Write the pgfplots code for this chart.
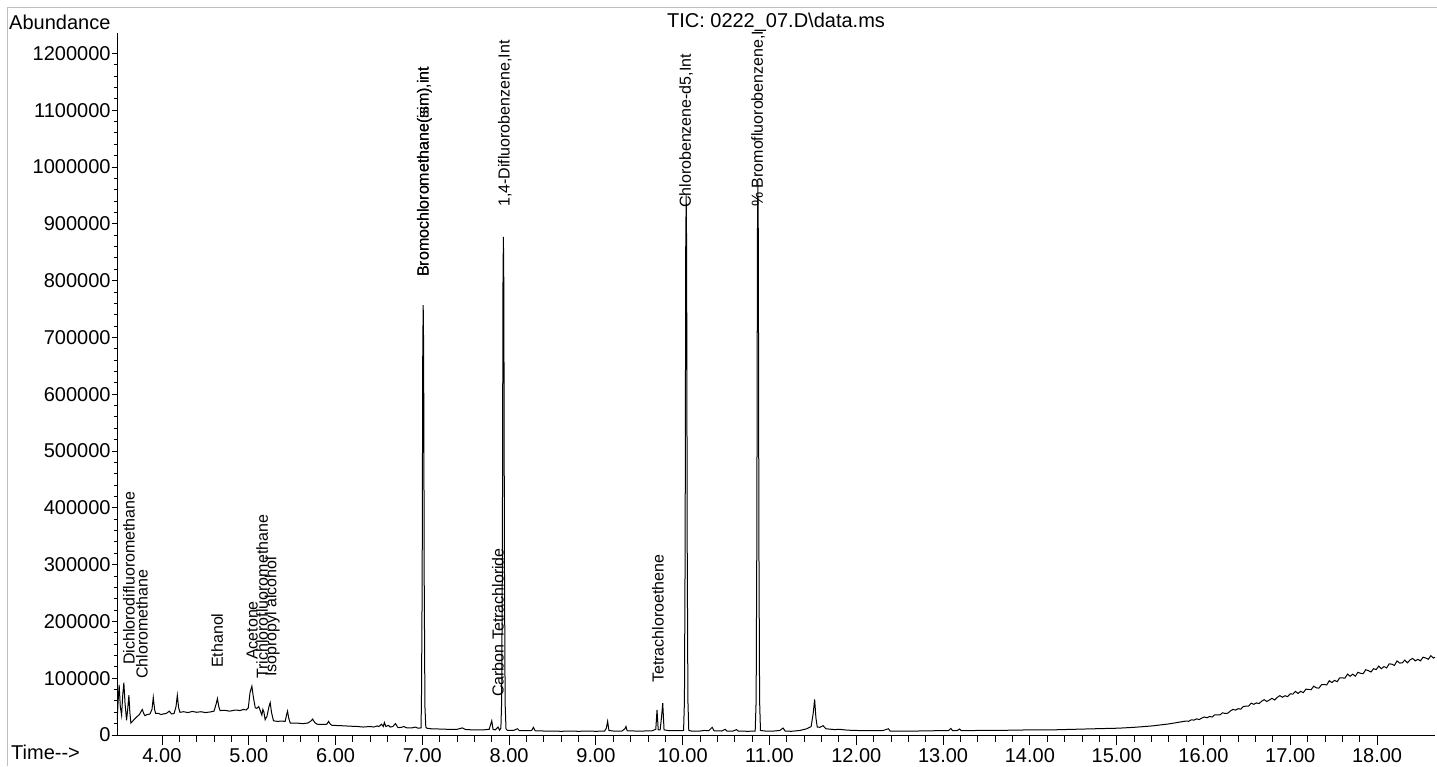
\documentclass[border=0pt]{standalone}
\usepackage{fontspec}
\setmainfont{Liberation Sans}
\usepackage{pgfplots}
\pgfplotsset{compat=1.18}
\begin{document}
\begin{tikzpicture}[x=1bp,y=1bp,
  lbl/.style={rotate=90, anchor=west, inner sep=0, font=\fontsize{16bp}{19bp}\selectfont}]
\useasboundingbox (-117,-31) rectangle (1320,735);
\draw[black!25, line width=1bp] (-109,-31) -- (-109,727) -- (1320,727);
\node[anchor=west, inner sep=0, font=\fontsize{20bp}{24bp}\selectfont] at (-108,713) {Abundance};
\node[anchor=center, inner sep=0, font=\fontsize{20bp}{24bp}\selectfont] at (659,713) {TIC: 0222\_07.D\textbackslash data.ms};
\node[anchor=west, inner sep=0, font=\fontsize{20bp}{24bp}\selectfont] at (-106,-17) {Time-{}-{}>};
\begin{axis}[
  at={(0,0)}, anchor=south west,
  scale only axis, width=1318bp, height=702bp,
  xmin=3.482, xmax=18.668, ymin=0, ymax=1236000,
  axis x line*=bottom, axis y line*=left,
  axis line style={black, line width=0.9bp},
  xtick={4,5,6,7,8,9,10,11,12,13,14,15,16,17,18},
  xticklabels={4.00,5.00,6.00,7.00,8.00,9.00,10.00,11.00,12.00,13.00,14.00,15.00,16.00,17.00,18.00},
  ytick={0,100000,200000,300000,400000,500000,600000,700000,800000,900000,1000000,1100000,1200000},
  yticklabels={0,100000,200000,300000,400000,500000,600000,700000,800000,900000,1000000,1100000,1200000},
  scaled y ticks=false, scaled x ticks=false,
  minor x tick num=4, minor y tick num=4,
  tick align=outside,
  major tick style={black, line width=0.9bp},
  minor tick style={black, line width=0.9bp},
  every major x tick/.append style={/pgfplots/major tick length=10bp},
  every minor x tick/.append style={/pgfplots/minor tick length=7bp},
  every major y tick/.append style={/pgfplots/major tick length=5bp},
  every minor y tick/.append style={/pgfplots/minor tick length=3bp},
  tick label style={font=\fontsize{20bp}{24bp}\selectfont, inner sep=1bp},
  xticklabel style={yshift=-8bp},
  yticklabel style={xshift=-1bp},
]
\addplot[black, line width=1bp] coordinates {
(3.484,26000)(3.495,60000)(3.507,88000)(3.520,50000)(3.535,35000)(3.548,70000)(3.561,92000)(3.575,55000)
(3.592,26000)(3.605,45000)(3.619,70000)(3.630,40000)(3.642,21000)(3.66,24000)(3.69,29000)(3.71,32000)
(3.74,36000)(3.773,45000)(3.79,38000)(3.804,34000)(3.83,36000)(3.861,37000)(3.885,45000)(3.900,66000)
(3.915,45000)(3.927,38000)(3.96,38000)(3.99,36000)(4.015,37000)(4.05,38000)(4.085,42000)(4.11,37000)
(4.14,38000)(4.162,50000)(4.177,70000)(4.192,48000)(4.208,40000)(4.25,41000)(4.30,39500)(4.35,41500)
(4.40,40000)(4.45,41000)(4.50,39500)(4.554,40500)(4.60,42000)(4.625,55000)(4.639,64000)(4.655,50000)
(4.670,43000)(4.72,43500)(4.78,42000)(4.85,44000)(4.90,43000)(4.939,45000)(4.97,44000)(4.995,48000)
(5.015,75000)(5.036,86000)(5.055,65000)(5.075,48000)(5.093,47000)(5.115,50000)(5.135,42000)(5.151,35000)
(5.163,45000)(5.175,40000)(5.189,27000)(5.21,33000)(5.233,50000)(5.247,57000)(5.262,40000)(5.285,25000)
(5.33,24000)(5.38,24500)(5.420,24000)(5.435,35000)(5.447,42000)(5.46,30000)(5.478,21000)(5.55,21000)
(5.62,20000)(5.68,21000)(5.72,25000)(5.736,28000)(5.76,22000)(5.786,19000)(5.85,18500)(5.90,19000)
(5.920,24000)(5.94,19000)(5.96,17000)(6.05,16500)(6.17,15500)
(6.25,15000)(6.32,14000)(6.40,15000)(6.44,14000)(6.48,16000)(6.50,15000)(6.53,19000)(6.55,15000)
(6.563,22000)(6.58,15000)(6.61,17000)(6.63,14000)(6.66,15000)(6.69,20000)(6.72,13000)(6.76,13500)
(6.786,15000)(6.82,12500)(6.88,12500)(6.92,14000)(6.95,12000)(6.985,12500)
(6.990,60000)(6.998,265000)(7.005,680000)(7.010,757000)(7.015,680000)(7.022,265000)(7.030,50000)(7.040,14000)
(7.05,12000)(7.10,11000)(7.20,10500)(7.30,10000)(7.40,10000)(7.46,12500)(7.50,9500)(7.60,9000)
(7.70,9000)(7.77,10000)(7.800,25000)(7.815,10000)(7.84,9000)(7.872,14000)(7.89,8500)(7.905,12000)
(7.914,60000)(7.922,305000)(7.929,790000)(7.934,877000)(7.939,790000)(7.946,305000)(7.954,55000)(7.964,11000)
(7.98,8000)(8.05,8000)(8.096,11000)(8.12,7500)(8.20,7500)(8.26,8000)(8.28,13500)(8.30,7500)
(8.40,7000)(8.50,7000)(8.60,6500)(8.70,7000)(8.80,6500)(8.90,7000)(9.00,6500)(9.10,7000)
(9.12,12000)(9.135,24000)(9.15,8000)(9.20,7000)(9.30,7000)(9.335,11000)(9.346,15000)(9.36,7500)
(9.45,7000)(9.55,7000)(9.65,7500)(9.69,10000)(9.704,44000)(9.718,9000)(9.74,9000)(9.755,30000)
(9.770,56000)(9.785,9000)(9.85,7500)(9.95,7500)(10.01,8000)
(10.020,60000)(10.028,330000)(10.035,860000)(10.040,950000)(10.045,860000)(10.052,330000)(10.060,60000)(10.070,8000)
(10.10,7000)(10.20,7000)(10.25,8000)(10.30,7500)(10.34,13500)(10.36,7500)(10.45,7000)(10.49,10000)
(10.51,7000)(10.58,7000)(10.62,9500)(10.64,7000)(10.75,6500)(10.835,7000)
(10.846,60000)(10.854,340000)(10.861,880000)(10.866,975000)(10.871,880000)(10.878,340000)(10.886,60000)(10.896,8000)
(10.95,7000)(11.05,7000)(11.12,8000)(11.156,12300)(11.18,7000)(11.25,6500)(11.35,8000)(11.43,11000)
(11.48,15000)(11.505,40000)(11.52,62800)(11.535,30000)(11.55,14000)(11.58,13500)(11.617,16400)(11.65,11000)
(11.75,9500)(11.80,10000)(11.90,8500)(12.00,8000)(12.10,7500)(12.20,7500)(12.30,7500)(12.37,11000)
(12.39,7000)(12.50,7000)(12.70,7000)(12.90,7500)(13.06,7500)(13.09,11500)(13.11,7500)(13.16,7500)
(13.19,10500)(13.21,7500)(13.40,8000)(13.60,8000)(13.80,8500)(14.00,9000)(14.25,9000)(14.50,10000)
(14.75,11000)(15.02,12000)(15.2,13500)(15.41,16000)(15.6,19500)
(15.80,24600)(15.83,24100)(15.86,26800)(15.89,26200)(15.92,28400)(15.95,27200)(15.98,29700)(16.01,31700)
(16.04,30400)(16.07,32500)(16.10,31700)(16.13,35500)(16.16,35500)(16.19,35400)(16.22,39100)(16.25,37900)
(16.28,38400)(16.31,42300)(16.34,45100)(16.37,43800)(16.40,46400)(16.43,45400)(16.46,50400)(16.49,50700)
(16.52,50800)(16.55,56000)(16.58,54000)(16.61,56500)(16.64,55300)(16.67,59400)(16.70,62200)(16.73,59000)
(16.76,61700)(16.79,64600)(16.82,61500)(16.85,66200)(16.88,69300)(16.91,66500)(16.94,69100)(16.97,67600)
(17.00,72600)(17.03,71900)(17.06,76800)(17.09,73100)(17.12,77000)(17.15,74600)(17.18,80700)(17.21,80300)
(17.24,79700)(17.27,86000)(17.30,83000)(17.33,82500)(17.36,88500)(17.39,89000)(17.42,88100)(17.45,95600)
(17.48,92300)(17.51,96100)(17.54,93900)(17.57,100700)(17.60,100500)(17.63,100100)(17.66,107300)(17.69,103400)
(17.72,107100)(17.75,103600)(17.78,110400)(17.81,108600)(17.84,108000)(17.87,114900)(17.90,113400)(17.93,110900)
(17.96,116800)(17.99,115200)(18.02,121300)(18.05,116700)(18.08,120500)(18.11,118200)(18.14,125300)(18.17,124700)
(18.20,122500)(18.23,130400)(18.26,126700)(18.29,126900)(18.32,131900)(18.35,127100)(18.38,132200)(18.41,134900)
(18.44,130500)(18.47,133200)(18.50,130500)(18.53,137000)(18.56,135600)(18.59,133300)(18.62,139700)(18.65,135400)
(18.668,137000)
};
\node[lbl] at (axis cs:3.62,123200) {Dichlorodifluoromethane};
\node[lbl] at (axis cs:3.77,98600) {Chloromethane};
\node[lbl] at (axis cs:4.635,118000) {Ethanol};
\node[lbl] at (axis cs:5.04,132000) {Acetone};
\node[lbl] at (axis cs:5.155,98600) {Trichlorofluoromethane};
\node[lbl] at (axis cs:5.27,102100) {Isopropyl alcohol};
\node[lbl] at (axis cs:7.025,806400) {Bromochloromethane(sim),int};
\node[lbl] at (axis cs:7.025,806400) {Bromochloromethane(ism),int};
\node[lbl] at (axis cs:7.95,929600) {1,4-Difluorobenzene,Int};
\node[lbl] at (axis cs:7.87,66900) {Carbon Tetrachloride};
\node[lbl] at (axis cs:9.715,91500) {Tetrachloroethene};
\node[lbl] at (axis cs:10.04,927800) {Chlorobenzene-d5,Int};
\node[lbl] at (axis cs:10.87,929600) {\% Bromofluorobenzene,Int};
\end{axis}
\end{tikzpicture}
\end{document}
